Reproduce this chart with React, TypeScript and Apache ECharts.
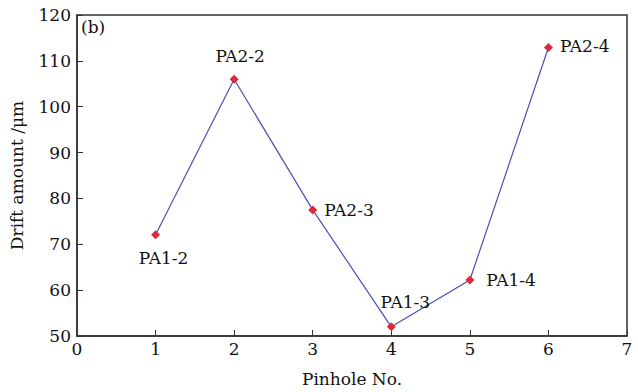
import React, { useEffect, useRef } from "react";
import * as echarts from "echarts";

const pinholes = [1, 2, 3, 4, 5, 6];
const drift = [72.1, 106.0, 77.5, 52.0, 62.2, 112.9];
const labels = ["PA1-2", "PA2-2", "PA2-3", "PA1-3", "PA1-4", "PA2-4"];
const labelPos = ["bottom", "top", "right", "top", "right", "right"];
const labelOffsets = [[8, 2], [6, -2], [0, 0], [14, -4], [5, 0], [0, -2]];

const FONT = "DejaVu Serif";
const FS = 17;

export default function App() {
  const ref = useRef<HTMLDivElement>(null);
  useEffect(() => {
    const chart = echarts.init(ref.current!, null, { renderer: "svg" });
    const data = pinholes.map((x, i) => ({
      value: [x, drift[i]],
      label: {
        show: true,
        formatter: labels[i],
        position: labelPos[i] as any,
        distance: labelPos[i] === "right" ? 7 : 8,
        offset: labelOffsets[i],
        color: "#111",
        fontFamily: FONT,
        fontSize: FS,
      },
    }));
    chart.setOption({
      animation: false,
      backgroundColor: "#fff",
      grid: {
        left: 72,
        right: 11,
        top: 15,
        bottom: 54,
        show: true,
        borderColor: "#333",
        borderWidth: 1.5,
        backgroundColor: "transparent",
      },
      xAxis: {
        type: "value",
        min: 0,
        max: 7,
        interval: 1,
        name: "Pinhole No.",
        nameLocation: "middle",
        nameGap: 34,
        nameTextStyle: { fontFamily: FONT, fontSize: FS, color: "#111" },
        axisLine: { lineStyle: { color: "#333", width: 1.5 } },
        axisTick: { inside: true, length: 6, lineStyle: { color: "#333" } },
        axisLabel: { fontFamily: FONT, fontSize: FS, color: "#111", margin: 4 },
        splitLine: { show: false },
      },
      yAxis: {
        type: "value",
        min: 50,
        max: 120,
        interval: 10,
        name: "Drift amount /μm",
        nameLocation: "middle",
        nameGap: 52,
        nameTextStyle: { fontFamily: FONT, fontSize: FS, color: "#111" },
        axisLine: { show: true, lineStyle: { color: "#333", width: 1.5 } },
        axisTick: { show: true, inside: true, length: 6, lineStyle: { color: "#333" } },
        axisLabel: { fontFamily: FONT, fontSize: FS, color: "#111", margin: 6 },
        splitLine: { show: false },
      },
      graphic: [
        {
          type: "text",
          left: 81,
          top: 18,
          style: { text: "(b)", fontFamily: FONT, fontSize: FS, fill: "#111" },
        },
      ],
      series: [
        {
          type: "line",
          data,
          symbol: "diamond",
          symbolSize: 9,
          itemStyle: { color: "#e0283a" },
          lineStyle: { color: "#4a4fb5", width: 1.2 },
        },
      ],
    });
    return () => chart.dispose();
  }, []);
  return (
    <div
      ref={ref}
      style={{ position: "absolute", left: 0, top: 0, width: 638, height: 392 }}
    />
  );
}
